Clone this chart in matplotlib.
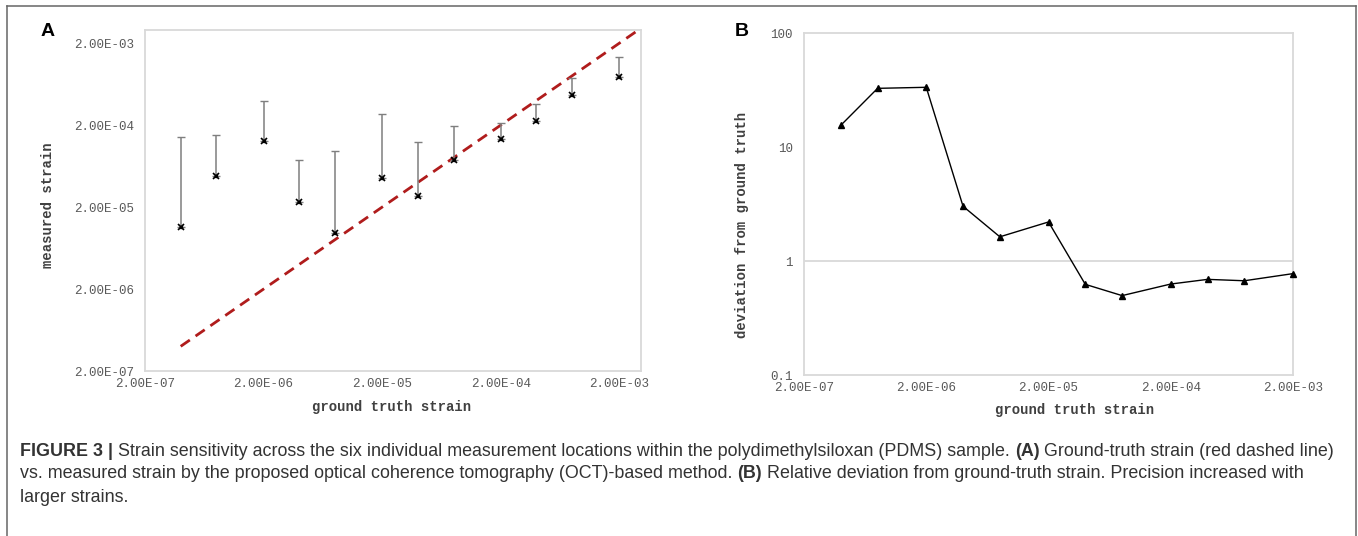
import numpy as np
import matplotlib
matplotlib.use('Agg')
import matplotlib.pyplot as plt
from matplotlib import font_manager
from matplotlib.lines import Line2D
from matplotlib.ticker import FixedLocator, NullLocator

# datos
ground_truth = [4e-7, 8e-7, 2e-6, 4e-6, 8e-6, 2e-5, 4e-5, 8e-5, 2e-4, 4e-4, 8e-4, 2e-3]
measured = [1.15e-5, 4.8e-5, 1.28e-4, 2.32e-5, 9.7e-6, 4.58e-5, 2.73e-5, 7.55e-5,
            1.35e-4, 2.27e-4, 4.69e-4, 7.66e-4]
upper_bar = [1.42e-4, 1.51e-4, 3.92e-4, 7.62e-5, 9.64e-5, 2.72e-4, 1.24e-4, 1.97e-4,
             2.15e-4, 3.67e-4, 7.44e-4, 1.35e-3]
deviation = [15.5, 32.7, 33.4, 3.02, 1.63, 2.20, 0.624, 0.497, 0.628, 0.690, 0.671, 0.775]
line_end = 2.9e-3
ticks_strain = [2e-7, 2e-6, 2e-5, 2e-4, 2e-3]
ticks_dev = [0.1, 1, 10, 100]
tick_dev_labels = ['0.1', '1', '10', '100']

mono = 'Liberation Mono'
try:
    font_manager.findfont('Liberation Sans Narrow', fallback_to_default=False)
    cap_font = 'Liberation Sans Narrow'
    cap_size = 14
except Exception:
    cap_font = 'Liberation Sans'
    cap_size = 12.9

frame_col = '#d9d9d9'
tick_col = '#595959'

fig = plt.figure(figsize=(13.58, 5.36), dpi=100)
W, H = 1358, 536


def px(x, y):
    return x / W, 1 - y / H


def style_axes(ax):
    for s in ax.spines.values():
        s.set_color(frame_col)
        s.set_linewidth(1.3)
    ax.tick_params(length=0, colors=tick_col, labelsize=9)
    for lab in ax.get_xticklabels() + ax.get_yticklabels():
        lab.set_family(mono)
    ax.xaxis.set_minor_locator(NullLocator())
    ax.yaxis.set_minor_locator(NullLocator())


# ---- panel A ----
axA = fig.add_axes([145 / W, 1 - 371 / H, (641 - 145) / W, (371 - 30) / H])
axA.set_xscale('log')
axA.set_yscale('log')
axA.set_xlim(2e-7, 3.05e-3)
axA.set_ylim(2e-7, 2.9e-3)
gt = np.array(ground_truth)
ms = np.array(measured)
up = np.array(upper_bar)
axA.plot([gt[0], line_end], [gt[0], line_end], color='#b01c1c', lw=2,
         dashes=(4, 2.5), zorder=2)
axA.errorbar(gt, ms, yerr=[np.zeros_like(ms), up - ms], fmt='none',
             ecolor='#7f7f7f', elinewidth=1.1, capsize=3, capthick=1, zorder=3)
axA.plot(gt, ms, 'x', color='black', ms=5, mew=1.2, zorder=4)
axA.plot(gt, ms, 's', color='black', ms=2, zorder=4)
axA.xaxis.set_major_locator(FixedLocator(ticks_strain))
axA.yaxis.set_major_locator(FixedLocator(ticks_strain))
axA.set_xticklabels(['{:.2E}'.format(t) for t in ticks_strain])
axA.set_yticklabels(['{:.2E}'.format(t) for t in ticks_strain])
axA.tick_params(axis='y', pad=8)
axA.tick_params(axis='x', pad=5)
style_axes(axA)

# ---- panel B ----
axB = fig.add_axes([804 / W, 1 - 375 / H, (1293 - 804) / W, (375 - 33) / H])
axB.set_xscale('log')
axB.set_yscale('log')
axB.set_xlim(2e-7, 2e-3)
axB.set_ylim(0.1, 100)
axB.axhline(1, color=frame_col, lw=1.3, zorder=1)
axB.plot(ground_truth, deviation, '-^', color='black', lw=1, ms=4, zorder=3, clip_on=False)
axB.xaxis.set_major_locator(FixedLocator(ticks_strain))
axB.yaxis.set_major_locator(FixedLocator(ticks_dev))
axB.set_xticklabels(['{:.2E}'.format(t) for t in ticks_strain])
axB.set_yticklabels(tick_dev_labels)
axB.tick_params(axis='y', pad=8)
axB.tick_params(axis='x', pad=5)
style_axes(axB)

# etiquetas
lab_kw = dict(family=mono, fontsize=10, fontweight='bold', color='#404040')
fig.text(*px(48, 205), 'measured strain', rotation=90, ha='center', va='center', **lab_kw)
fig.text(*px(392, 407), 'ground truth strain', ha='center', va='center', **lab_kw)
fig.text(*px(742, 225), 'deviation from ground truth', rotation=90, ha='center',
         va='center', **lab_kw)
fig.text(*px(1075, 410), 'ground truth strain', ha='center', va='center', **lab_kw)
fig.text(*px(48, 32), 'A', fontsize=14, fontweight='bold', ha='center', va='center',
         family='Liberation Sans')
fig.text(*px(742, 32), 'B', fontsize=14, fontweight='bold', ha='center', va='center',
         family='Liberation Sans')

# marco exterior
bcol = '#666666'
fig.add_artist(Line2D([7 / W, 1356 / W], [1 - 6 / H, 1 - 6 / H], color=bcol, lw=1.1,
                      transform=fig.transFigure))
fig.add_artist(Line2D([7 / W, 7 / W], [0, 1 - 6 / H], color=bcol, lw=1.1,
                      transform=fig.transFigure))
fig.add_artist(Line2D([1356 / W, 1356 / W], [0, 1 - 6 / H], color=bcol, lw=1.1,
                      transform=fig.transFigure))

# leyenda de la figura (texto con partes en negrita)
caption = [
    [('FIGURE 3 |', 'bold'),
     (' Strain sensitivity across the six individual measurement locations within the '
      'polydimethylsiloxan (PDMS) sample. ', 'normal'),
     ('(A)', 'bold'), (' Ground-truth strain (red dashed line)', 'normal')],
    [('vs. measured strain by the proposed optical coherence tomography (OCT)-based method. ',
      'normal'),
     ('(B)', 'bold'),
     (' Relative deviation from ground-truth strain. Precision increased with', 'normal')],
    [('larger strains.', 'normal')],
]
renderer = fig.canvas.get_renderer()
for i, line in enumerate(caption):
    x0 = 20
    y0 = 451 + 23 * i
    for txt, wt in line:
        t = fig.text(*px(x0, y0), txt, fontsize=cap_size, fontweight=wt, color='#333333',
                     family=cap_font, ha='left', va='center')
        bb = t.get_window_extent(renderer=renderer)
        x0 += bb.width

fig.savefig('out.png', dpi=100)
